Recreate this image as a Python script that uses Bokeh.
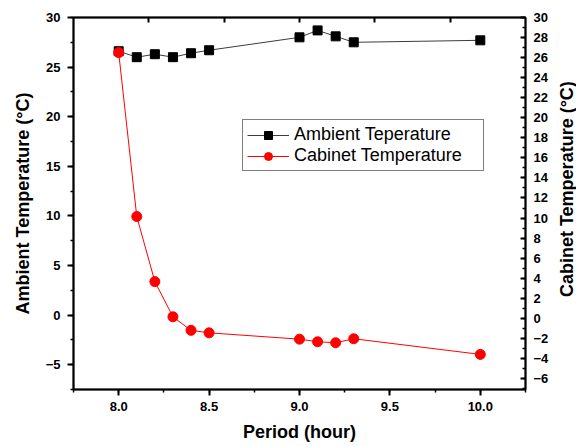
import math
from bokeh.plotting import figure
from bokeh.models import (Range1d, LinearAxis, SingleIntervalTicker, FixedTicker,
                          NumeralTickFormatter, Legend, LegendItem, Label)
from bokeh.embed import file_html
from bokeh.resources import INLINE

hours = [8.0, 8.1, 8.2, 8.3, 8.4, 8.5, 9.0, 9.1, 9.2, 9.3, 10.0]
ambient = [26.6, 26.0, 26.3, 26.0, 26.4, 26.7, 28.0, 28.7, 28.1, 27.5, 27.7]
cabinet = [26.5, 10.15, 3.66, 0.15, -1.2, -1.45, -2.08, -2.34, -2.44, -2.04, -3.6]

FONT = "Liberation Sans"

p = figure(width=576, height=446, output_backend="svg", toolbar_location=None,
           x_range=Range1d(7.75, 10.25), y_range=Range1d(-7.5, 30),
           min_border_left=73, min_border_right=51, min_border_top=17, min_border_bottom=57)
p.extra_y_ranges = {"right": Range1d(-7.1, 30)}
p.extra_x_ranges = {"top": Range1d(0, 6)}
p.xgrid.visible = False
p.ygrid.visible = False
p.outline_line_color = "black"
p.outline_line_width = 1.5
p.background_fill_color = "white"
p.border_fill_color = "white"

def style(ax):
    ax.axis_line_width = 2
    ax.major_tick_line_width = 2
    ax.minor_tick_line_width = 1.5
    ax.major_label_text_font = FONT
    ax.major_label_text_font_style = "bold"
    ax.major_label_text_font_size = "13px"
    ax.major_label_text_color = "black"
    ax.axis_label_text_font = FONT
    ax.axis_label_text_font_style = "bold"
    ax.axis_label_text_font_size = "18px"
    ax.axis_label_text_color = "black"

xa = p.xaxis[0]
style(xa)
xa.ticker = SingleIntervalTicker(interval=0.5, num_minor_ticks=2)
xa.formatter = NumeralTickFormatter(format="0.0")
xa.major_tick_out = 6
xa.major_tick_in = 0
xa.minor_tick_out = 3
xa.minor_tick_in = 0
xa.major_label_standoff = 6
xa.axis_label = "Period (hour)"
xa.axis_label_standoff = 8

ya = p.yaxis[0]
style(ya)
ya.ticker = SingleIntervalTicker(interval=5, num_minor_ticks=2)
ya.major_tick_out = 6
ya.major_tick_in = 0
ya.minor_tick_out = 3
ya.minor_tick_in = 0
ya.major_label_standoff = 7
ya.axis_label = "Ambient Temperature (°C)"
ya.axis_label_standoff = 10

ra = LinearAxis(y_range_name="right")
style(ra)
ra.ticker = SingleIntervalTicker(interval=2, num_minor_ticks=2)
ra.major_tick_out = 0
ra.major_tick_in = 5
ra.minor_tick_out = 0
ra.minor_tick_in = 3
ra.major_label_standoff = 8
p.add_layout(ra, "right")

ta = LinearAxis(x_range_name="top")
style(ta)
ta.ticker = FixedTicker(ticks=[1, 2, 3, 4, 5], minor_ticks=[])
ta.major_tick_out = 0
ta.major_tick_in = 5
ta.major_label_text_color = None
ta.major_label_text_font_size = "4px"
ta.major_label_standoff = 0
p.add_layout(ta, "above")

amb_line = p.line(hours, ambient, line_color="#3c3c3c", line_width=1)
amb_pts = p.scatter(hours, ambient, marker="square", size=9, fill_color="black", line_color="black")
cab_line = p.line(hours, cabinet, line_color="#ff0000", line_width=1, y_range_name="right")
cab_pts = p.scatter(hours, cabinet, marker="circle", size=10, fill_color="#ff0000",
                    line_color="#ff0000", y_range_name="right")

legend = Legend(items=[LegendItem(label="Ambient Teperature", renderers=[amb_line, amb_pts]),
                       LegendItem(label="Cabinet Temperature", renderers=[cab_line, cab_pts])],
                location=(169, 218))
legend.label_text_font = FONT
legend.label_text_font_size = "18px"
legend.label_text_color = "black"
legend.border_line_color = "black"
legend.border_line_width = 1
legend.background_fill_color = "white"
legend.background_fill_alpha = 1
legend.padding = 4
legend.spacing = 0
legend.margin = 0
legend.glyph_width = 42
legend.glyph_height = 20
legend.label_width = 185
legend.label_height = 20
legend.label_standoff = 5
p.add_layout(legend, "center")

rlabel = Label(x=10.48, y=12.7, text="Cabinet Temperature (°C)", angle=90, angle_units="deg",
               text_align="center", text_baseline="middle", text_font=FONT,
               text_font_style="bold", text_font_size="18px", text_color="black",
               level="overlay")
p.add_layout(rlabel, "right")

open("out.html", "w").write(file_html(p, INLINE))
